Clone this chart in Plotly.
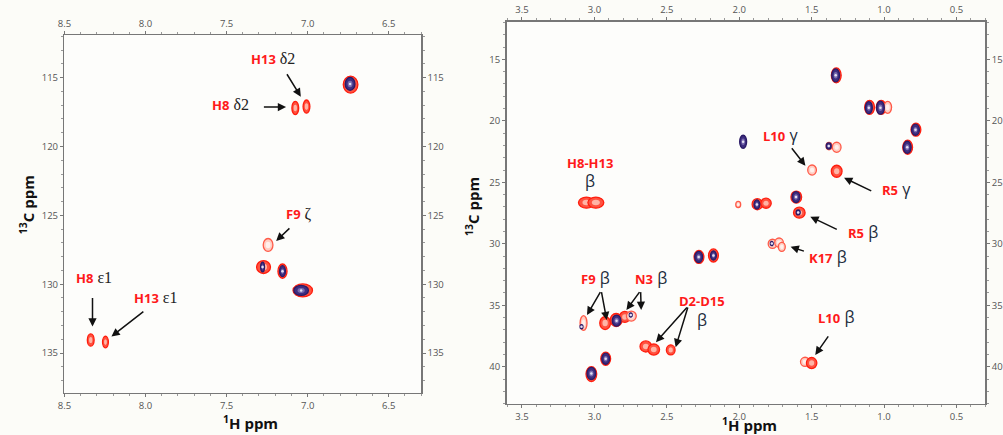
import plotly.graph_objects as go

# ================= DATA =================
# ---- Left panel: aromatic region (1H ppm, 13C ppm) ----
L_red_h  = [6.735, 7.076, 7.007, 7.244, 7.272, 7.155, 7.030, 8.338, 8.247]
L_red_c  = [115.50, 117.20, 117.10, 127.15, 128.75, 129.05, 130.45, 134.05, 134.20]
L_red_lwh = [0.045, 0.021, 0.021, 0.030, 0.043, 0.028, 0.060, 0.021, 0.018]   # half linewidths 1H
L_red_lwc = [0.62, 0.48, 0.48, 0.47, 0.47, 0.52, 0.47, 0.45, 0.42]            # half linewidths 13C
L_red_strong = [1, 1, 1, 0, 1, 1, 1, 1, 1]

L_blue_h = [6.738, 7.278, 7.155, 7.040]
L_blue_c = [115.45, 128.75, 129.05, 130.45]
L_blue_lwh = [0.030, 0.012, 0.018, 0.045]
L_blue_lwc = [0.47, 0.36, 0.40, 0.36]

# ---- Right panel: aliphatic region ----
R_red_h = [1.330, 1.100, 1.020, 0.975, 0.780, 0.837, 1.327, 1.380, 1.497, 1.327,
           3.055, 2.990, 2.007, 1.875, 1.815, 1.606, 1.585, 1.770, 1.725, 1.706,
           2.278, 2.178, 3.075, 2.926, 2.850, 2.790, 2.745, 2.645, 2.590, 2.473,
           2.922, 3.021, 1.545, 1.500]
R_red_c = [16.30, 18.90, 18.90, 18.90, 20.72, 22.15, 22.15, 22.05, 24.00, 24.10,
           26.65, 26.65, 26.80, 26.78, 26.70, 26.20, 27.47, 30.00, 29.90, 30.25,
           31.07, 30.95, 36.45, 36.45, 36.20, 35.95, 35.88, 38.35, 38.60, 38.63,
           39.35, 40.60, 39.60, 39.70]
R_red_lwh = [0.034, 0.034, 0.034, 0.027, 0.034, 0.034, 0.030, 0.020, 0.030, 0.037,
             0.055, 0.055, 0.017, 0.036, 0.036, 0.037, 0.040, 0.030, 0.030, 0.024,
             0.034, 0.034, 0.024, 0.037, 0.041, 0.037, 0.034, 0.040, 0.040, 0.030,
             0.034, 0.037, 0.032, 0.036]
R_red_lwc = [0.61, 0.57, 0.57, 0.49, 0.53, 0.57, 0.41, 0.30, 0.41, 0.49,
             0.45, 0.45, 0.25, 0.45, 0.41, 0.49, 0.45, 0.37, 0.37, 0.37,
             0.53, 0.53, 0.60, 0.53, 0.53, 0.45, 0.41, 0.45, 0.45, 0.41,
             0.53, 0.61, 0.37, 0.45]
R_red_strong = [1, 1, 1, 0, 1, 1, 0, 0, 0, 1,
                1, 1, 0, 1, 1, 1, 1, 0, 0, 0,
                1, 1, 0, 1, 1, 1, 0, 1, 1, 1,
                1, 1, 0, 1]

R_blue_h = [1.334, 1.105, 1.025, 0.783, 0.840, 1.973, 1.382, 1.878, 1.608, 1.593,
            1.775, 2.280, 2.178, 3.089, 2.847, 2.749, 2.922, 3.021]
R_blue_c = [16.30, 18.93, 18.93, 20.72, 22.15, 21.70, 22.05, 26.80, 26.20, 27.45,
            29.98, 31.07, 30.95, 36.75, 36.25, 35.80, 39.35, 40.55]
R_blue_lwh = [0.027, 0.024, 0.027, 0.027, 0.027, 0.024, 0.017, 0.020, 0.027, 0.014,
              0.010, 0.027, 0.020, 0.010, 0.030, 0.010, 0.027, 0.030]
R_blue_lwc = [0.53, 0.49, 0.53, 0.45, 0.49, 0.53, 0.25, 0.37, 0.45, 0.20,
              0.17, 0.45, 0.37, 0.17, 0.45, 0.17, 0.45, 0.49]

# ---- Assignment labels: residue, nucleus, x, y ----
L_lab_res = ["H13", "H8", "F9", "H8", "H13"]
L_lab_nuc = ["δ2", "δ2", "ζ", "ε1", "ε1"]
L_lab_x = [7.211, 7.475, 7.053, 8.315, 7.938]
L_lab_y = [113.64, 116.99, 124.87, 129.56, 130.98]

L_arr_tail_x = [7.133, 7.279, 7.103, 8.327, 8.004]
L_arr_tail_y = [114.64, 117.13, 125.84, 130.89, 131.91]
L_arr_head_x = [7.042, 7.133, 7.194, 8.327, 8.210]
L_arr_head_y = [116.38, 117.13, 126.86, 133.07, 133.80]

R_lab_res = ["L10", "R5", "R5", "K17", "F9", "N3", "L10"]
R_lab_nuc = ["γ", "γ", "β", "β", "β", "β", "β"]
R_lab_x = [1.713, 0.917, 1.148, 1.386, 2.992, 2.611, 1.335]
R_lab_y = [21.15, 25.54, 29.07, 31.10, 32.80, 32.80, 35.93]

R_stack_res = ["H8-H13", "D2-D15"]
R_stack_x = [3.028, 2.259]
R_stack_y1 = [23.46, 34.63]
R_stack_y2 = [24.90, 36.20]

R_arr_tail_x = [1.645, 1.078, 1.316, 1.543, 2.953, 2.953, 2.681, 2.681, 2.352, 2.352, 1.378]
R_arr_tail_y = [22.11, 25.76, 28.88, 30.64, 33.81, 33.81, 33.81, 33.81, 35.06, 35.06, 37.41]
R_arr_head_x = [1.543, 1.276, 1.509, 1.645, 3.051, 2.915, 2.779, 2.677, 2.575, 2.439, 1.475]
R_arr_head_y = [23.65, 24.63, 27.80, 30.24, 35.79, 36.20, 35.38, 35.38, 38.00, 38.41, 39.04]

# ================= STYLE =================
RED_STRONG = dict(fill="#ff5240", line="#ff1e0e", inner="#ffb4a6")
RED_WEAK = dict(fill="#ffcdc2", line="#ff5a48", inner="#fff0ec")
BLUE = dict(fill="#3e2e80", line="#2a1a66", inner="#7a6cb0")
LABEL_RED = "#ff1a1a"

shapes = []


def add_peak(xr, yr, xc, yc, wx, wy, st):
    shapes.append(dict(type="circle", xref=xr, yref=yr, layer="below",
                       x0=xc - wx, x1=xc + wx, y0=yc - wy, y1=yc + wy,
                       fillcolor=st["fill"], line=dict(color=st["line"], width=1.3)))
    shapes.append(dict(type="circle", xref=xr, yref=yr, layer="below",
                       x0=xc - 0.5 * wx, x1=xc + 0.5 * wx, y0=yc - 0.5 * wy, y1=yc + 0.5 * wy,
                       fillcolor=st["inner"], line=dict(width=0)))


for h, c, wh, wc, s in zip(L_red_h, L_red_c, L_red_lwh, L_red_lwc, L_red_strong):
    add_peak("x", "y", h, c, wh, wc, RED_STRONG if s else RED_WEAK)
for h, c, wh, wc in zip(L_blue_h, L_blue_c, L_blue_lwh, L_blue_lwc):
    add_peak("x", "y", h, c, wh, wc, BLUE)
for h, c, wh, wc, s in zip(R_red_h, R_red_c, R_red_lwh, R_red_lwc, R_red_strong):
    add_peak("x2", "y2", h, c, wh, wc, RED_STRONG if s else RED_WEAK)
for h, c, wh, wc in zip(R_blue_h, R_blue_c, R_blue_lwh, R_blue_lwc):
    add_peak("x2", "y2", h, c, wh, wc, BLUE)

fig = go.Figure()
# peak centres (tiny highlights) as traces
fig.add_trace(go.Scatter(x=L_blue_h, y=L_blue_c, mode="markers", xaxis="x", yaxis="y",
                         marker=dict(size=2.5, color="#e4e0f2"), hoverinfo="x+y", showlegend=False))
fig.add_trace(go.Scatter(x=R_blue_h, y=R_blue_c, mode="markers", xaxis="x2", yaxis="y2",
                         marker=dict(size=2.5, color="#e4e0f2"), hoverinfo="x+y", showlegend=False))
# invisible traces so the mirrored (top/right) axes are drawn
fig.add_trace(go.Scatter(x=L_red_h, y=L_red_c, mode="markers", xaxis="x3", yaxis="y3",
                         marker=dict(size=1, opacity=0), hoverinfo="skip", showlegend=False))
fig.add_trace(go.Scatter(x=R_red_h, y=R_red_c, mode="markers", xaxis="x4", yaxis="y4",
                         marker=dict(size=1, opacity=0), hoverinfo="skip", showlegend=False))

annotations = []


def label_text(res, nuc, serif=True):
    fam = "Liberation Serif" if serif else "Open Sans"
    return (f"<span style='color:{LABEL_RED};font-weight:bold;font-family:Open Sans'>{res}</span>"
            f"<span style='font-family:{fam};font-size:16px'> {nuc}</span>")


for r, n, x, y in zip(L_lab_res, L_lab_nuc, L_lab_x, L_lab_y):
    annotations.append(dict(xref="x", yref="y", x=x, y=y, text=label_text(r, n, True),
                            xanchor="center", yanchor="middle",
                            showarrow=False, font=dict(size=13, color="#222")))
for r, n, x, y in zip(R_lab_res, R_lab_nuc, R_lab_x, R_lab_y):
    annotations.append(dict(xref="x2", yref="y2", x=x, y=y, text=label_text(r, n, False),
                            xanchor="center", yanchor="middle",
                            showarrow=False, font=dict(size=13, color="#1a2a3a")))
for r, x, y1, y2 in zip(R_stack_res, R_stack_x, R_stack_y1, R_stack_y2):
    annotations.append(dict(xref="x2", yref="y2", x=x, y=y1,
                            text=f"<b>{r}</b>", showarrow=False, xanchor="center", yanchor="middle",
                            font=dict(size=13, color=LABEL_RED, family="Open Sans")))
    annotations.append(dict(xref="x2", yref="y2", x=x, y=y2, text="β", showarrow=False,
                            xanchor="center", yanchor="middle",
                            font=dict(size=16, color="#1a2a3a", family="Open Sans")))

for tx, ty, hx, hy in zip(L_arr_tail_x, L_arr_tail_y, L_arr_head_x, L_arr_head_y):
    annotations.append(dict(xref="x", yref="y", axref="x", ayref="y", x=hx, y=hy, ax=tx, ay=ty,
                            text="", showarrow=True, arrowhead=2, arrowsize=1.1, arrowwidth=1.5,
                            arrowcolor="#111"))
for tx, ty, hx, hy in zip(R_arr_tail_x, R_arr_tail_y, R_arr_head_x, R_arr_head_y):
    annotations.append(dict(xref="x2", yref="y2", axref="x2", ayref="y2", x=hx, y=hy, ax=tx, ay=ty,
                            text="", showarrow=True, arrowhead=2, arrowsize=1.1, arrowwidth=1.5,
                            arrowcolor="#111"))

# axis titles
TITLE_FONT = dict(size=15, color="#111", family="Open Sans")
annotations += [
    dict(xref="paper", yref="paper", x=0.246, y=0.028, text="<b><sup>1</sup>H ppm</b>",
         xanchor="center", yanchor="middle", showarrow=False, font=TITLE_FONT),
    dict(xref="paper", yref="paper", x=0.7507, y=0.023, text="<b><sup>1</sup>H ppm</b>",
         xanchor="center", yanchor="middle", showarrow=False, font=TITLE_FONT),
    dict(xref="paper", yref="paper", x=0.020, y=0.53, text="<b><sup>13</sup>C ppm</b>",
         xanchor="center", yanchor="middle", textangle=-90, showarrow=False, font=TITLE_FONT),
    dict(xref="paper", yref="paper", x=0.4706, y=0.525, text="<b><sup>13</sup>C ppm</b>",
         xanchor="center", yanchor="middle", textangle=-90, showarrow=False, font=TITLE_FONT),
]

AX = dict(showline=True, linecolor="#777", linewidth=1.5, ticks="outside", ticklen=3,
          tickcolor="#777", tickwidth=1, showgrid=False, zeroline=False,
          tickfont=dict(size=9.5, color="#555", family="Open Sans"))

LX = [8.5, 6.3]
LY = [137.9, 111.9]
RX = [3.606, 0.30]
RY = [43.03, 11.94]
L_dom_x = [0.0581, 0.4187]
L_dom_y = [0.0966, 0.9195]
R_dom_x = [0.5052, 0.9893]
R_dom_y = [0.0713, 0.950]

mx = dict(ticks="outside", ticklen=2, tickcolor="#999", dtick=0.1)
my = dict(ticks="outside", ticklen=2, tickcolor="#999", dtick=1)

fig.update_layout(
    width=1003, height=435, autosize=False,
    margin=dict(l=0, r=0, t=0, b=0),
    paper_bgcolor="#fcfcf8", plot_bgcolor="#fdfdfb",
    showlegend=False, hovermode=False,
    shapes=shapes, annotations=annotations,
    xaxis=dict(AX, domain=L_dom_x, range=LX, anchor="y", dtick=0.5, tick0=0, tickformat=".1f",
               mirror=True, minor=mx),
    yaxis=dict(AX, domain=L_dom_y, range=LY, anchor="x", dtick=5, mirror=True, minor=my),
    xaxis3=dict(AX, range=LX, anchor="y", overlaying="x", side="top", dtick=0.5, tick0=0,
                tickformat=".1f", minor=mx),
    yaxis3=dict(AX, range=LY, anchor="x", overlaying="y", side="right", dtick=5, minor=my),
    xaxis2=dict(AX, domain=R_dom_x, range=RX, anchor="y2", dtick=0.5, tick0=0, tickformat=".1f",
                mirror=True, minor=mx),
    yaxis2=dict(AX, domain=R_dom_y, range=RY, anchor="x2", dtick=5, mirror=True, minor=my),
    xaxis4=dict(AX, range=RX, anchor="y2", overlaying="x2", side="top", dtick=0.5, tick0=0,
                tickformat=".1f", minor=mx),
    yaxis4=dict(AX, range=RY, anchor="x2", overlaying="y2", side="right", dtick=5, minor=my),
)

fig.write_html("out.html", config={"displayModeBar": False, "staticPlot": True})

# remove the browser's default page margin so the figure fills the window exactly
with open("out.html", "r", encoding="utf-8") as f:
    html = f.read()
html = html.replace("<head>", "<head><style>html,body{margin:0;padding:0;overflow:hidden;}</style>", 1)
with open("out.html", "w", encoding="utf-8") as f:
    f.write(html)
